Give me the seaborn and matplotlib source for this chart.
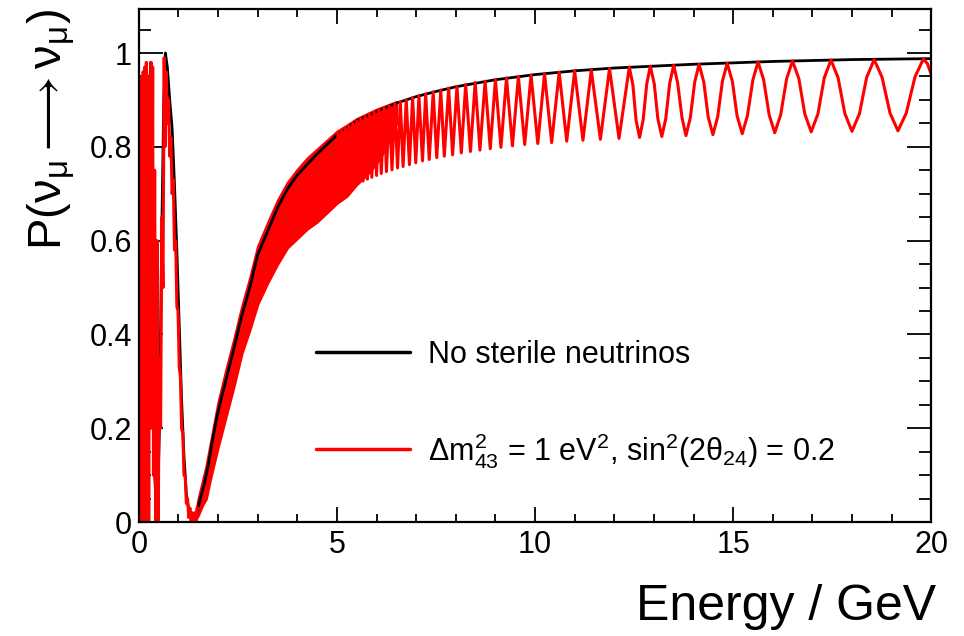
import pandas as pd
import matplotlib
matplotlib.use('Agg')
import matplotlib.pyplot as plt
from matplotlib.lines import Line2D
from matplotlib.ticker import MultipleLocator
import seaborn as sns

# survival probability without steriles (black)
black_energy = [0.02, 0.06, 0.10, 0.14, 0.18, 0.22, 0.26, 0.30, 0.35, 0.40, 0.46, 0.52, 0.58, 0.63,
                0.67, 0.72, 0.78, 0.84, 0.90, 0.96, 1.02, 1.08, 1.14, 1.20, 1.27, 1.34, 1.40, 1.47,
                1.55, 1.65, 1.75, 1.85, 1.96, 2.1, 2.25, 2.4, 2.6, 2.8, 3.0, 3.25, 3.5, 3.75, 4.0,
                4.5, 5.0, 5.5, 6.0, 6.5, 7.0, 7.5, 8.0, 9.0, 10, 11, 12, 13, 14, 15, 16, 17, 18, 19, 20]
black_prob = [0.5, 0.0, 0.95, 0.0, 0.97, 0.05, 0.9, 0.98, 0.4, 0.1, 0.0, 0.2, 0.62, 0.9,
              1.0, 0.97, 0.9, 0.84, 0.72, 0.58, 0.42, 0.26, 0.14, 0.06, 0.02, 0.003, 0.0, 0.02,
              0.05, 0.08, 0.12, 0.17, 0.22, 0.27, 0.32, 0.37, 0.44, 0.50, 0.57, 0.62, 0.67, 0.71, 0.74,
              0.785, 0.825, 0.855, 0.875, 0.893, 0.907, 0.918, 0.928, 0.943, 0.954, 0.962, 0.968,
              0.972, 0.976, 0.979, 0.982, 0.984, 0.986, 0.987, 0.988]

# sterile case (red), low-energy spikes
red_low_energy = [0.01, 0.03, 0.05, 0.07, 0.09, 0.11, 0.13, 0.15, 0.17, 0.19, 0.21, 0.23, 0.25, 0.27,
                  0.29, 0.31, 0.33, 0.35, 0.37, 0.40, 0.43, 0.46, 0.49, 0.52, 0.55, 0.58, 0.61, 0.64,
                  0.66, 0.69, 0.72, 0.75, 0.78, 0.81, 0.84, 0.87, 0.90, 0.93, 0.96, 0.99, 1.02, 1.05,
                  1.08, 1.11, 1.14, 1.17, 1.20, 1.23, 1.26, 1.29, 1.32, 1.35, 1.38, 1.41, 1.44, 1.47, 1.50]
red_low_prob = [0.0, 0.93, 0.02, 0.95, 0.0, 0.96, 0.03, 0.97, 0.0, 0.98, 0.05, 0.9, 0.0, 0.95,
                0.2, 0.98, 0.5, 0.97, 0.1, 0.75, 0.0, 0.6, 0.0, 0.35, 0.2, 0.65, 0.5, 0.99,
                0.8, 0.96, 0.85, 0.9, 0.78, 0.82, 0.7, 0.73, 0.58, 0.6, 0.46, 0.45, 0.33, 0.31,
                0.2, 0.19, 0.1, 0.1, 0.04, 0.05, 0.01, 0.03, 0.0, 0.02, 0.0, 0.02, 0.0, 0.03, 0.03]

# unresolved fast oscillation: band edges
band_energy = [1.40, 1.5, 1.6, 1.7, 1.8, 1.9, 2.0, 2.2, 2.4, 2.6, 2.8, 3.0, 3.25, 3.5, 3.75,
               4.0, 4.25, 4.5, 4.75, 5.0, 5.25, 5.5, 5.75, 6.0, 6.25, 6.5]
band_top = [0.005, 0.05, 0.085, 0.12, 0.165, 0.21, 0.255, 0.325, 0.39, 0.46, 0.52, 0.588, 0.638,
            0.686, 0.724, 0.752, 0.776, 0.795, 0.814, 0.833, 0.846, 0.86, 0.87, 0.88, 0.888, 0.896]
band_bottom = [0.0, 0.015, 0.035, 0.05, 0.09, 0.125, 0.16, 0.225, 0.29, 0.36, 0.41, 0.465, 0.51,
               0.55, 0.585, 0.605, 0.625, 0.64, 0.66, 0.68, 0.695, 0.72, 0.74, 0.765, 0.80, 0.85]

# resolved oscillation, peaks and troughs (energy, prob)
red_mid = [(4.99, 0.698), (5.03, 0.830), (5.08, 0.702), (5.12, 0.835), (5.17, 0.706), (5.21, 0.840),
           (5.26, 0.710), (5.30, 0.845), (5.35, 0.714), (5.40, 0.850), (5.45, 0.719), (5.50, 0.855),
           (5.55, 0.723), (5.60, 0.860), (5.66, 0.727), (5.71, 0.865), (5.77, 0.731), (5.82, 0.870),
           (5.88, 0.735), (5.94, 0.874), (6.00, 0.739), (6.06, 0.878), (6.12, 0.743), (6.19, 0.883),
           (6.25, 0.747), (6.32, 0.887), (6.39, 0.751), (6.46, 0.892), (6.53, 0.755), (6.60, 0.896),
           (6.67, 0.758), (6.75, 0.900), (6.83, 0.762), (6.91, 0.905), (6.99, 0.766), (7.07, 0.909),
           (7.16, 0.770), (7.24, 0.913), (7.33, 0.773), (7.43, 0.917), (7.52, 0.777), (7.62, 0.921),
           (7.71, 0.780), (7.82, 0.925), (7.92, 0.783), (8.03, 0.929), (8.14, 0.787), (8.25, 0.933),
           (8.37, 0.790), (8.49, 0.937), (8.61, 0.793), (8.74, 0.940), (8.87, 0.796), (9.00, 0.943),
           (9.14, 0.799), (9.28, 0.947), (9.43, 0.802), (9.58, 0.950), (9.74, 0.805), (9.90, 0.953),
           (10.07, 0.807), (10.24, 0.956), (10.42, 0.809), (10.61, 0.959), (10.80, 0.812),
           (11.00, 0.962), (11.21, 0.814), (11.42, 0.964), (11.65, 0.816), (11.88, 0.967),
           (12.12, 0.818), (12.38, 0.970)]
red_high = [(12.47, 0.932), (12.55, 0.857), (12.64, 0.820), (12.73, 0.858), (12.82, 0.934),
            (12.91, 0.972), (13.01, 0.934), (13.10, 0.860), (13.20, 0.822), (13.30, 0.860),
            (13.40, 0.936), (13.50, 0.974), (13.60, 0.936), (13.71, 0.862), (13.81, 0.824),
            (13.92, 0.862), (14.03, 0.938), (14.14, 0.976), (14.26, 0.938), (14.37, 0.864),
            (14.49, 0.826), (14.61, 0.864), (14.73, 0.940), (14.85, 0.978), (14.98, 0.940),
            (15.10, 0.866), (15.23, 0.828), (15.36, 0.866), (15.50, 0.943), (15.63, 0.981),
            (15.77, 0.943), (15.91, 0.868), (16.05, 0.830), (16.20, 0.868), (16.35, 0.945),
            (16.50, 0.983), (16.66, 0.945), (16.81, 0.870), (16.97, 0.832), (17.14, 0.870),
            (17.30, 0.947), (17.47, 0.985), (17.65, 0.947), (17.82, 0.871), (18.00, 0.833),
            (18.19, 0.871), (18.37, 0.948), (18.56, 0.986), (18.76, 0.948), (18.96, 0.872),
            (19.16, 0.834), (19.37, 0.872), (19.59, 0.949), (19.80, 0.987), (19.90, 0.978),
            (20.00, 0.955)]

x_ticks = [0, 5, 10, 15, 20]
x_tick_labels = ['0', '5', '10', '15', '20']
y_ticks = [0, 0.2, 0.4, 0.6, 0.8, 1.0]
y_tick_labels = ['0', '0.2', '0.4', '0.6', '0.8', '1']

sns.set_theme(style='white')
plt.rcParams['font.family'] = ['Liberation Sans', 'DejaVu Sans']
plt.rcParams['mathtext.fontset'] = 'custom'
plt.rcParams['mathtext.rm'] = 'Liberation Sans'
plt.rcParams['mathtext.it'] = 'Liberation Sans'
plt.rcParams['mathtext.default'] = 'regular'
for key in ['text.color', 'axes.labelcolor', 'xtick.color', 'ytick.color']:
    plt.rcParams[key] = 'black'

black_df = pd.DataFrame({'energy': black_energy, 'prob': black_prob})
red_df = pd.concat([
    pd.DataFrame({'energy': red_low_energy, 'prob': red_low_prob, 'seg': 0}),
    pd.DataFrame(red_mid + red_high, columns=['energy', 'prob']).assign(seg=1),
], ignore_index=True)

fig, ax = plt.subplots(figsize=(9.64, 6.36), dpi=100)
fig.subplots_adjust(left=0.144, right=0.966, bottom=0.179, top=0.986)

sns.lineplot(data=black_df, x='energy', y='prob', color='black', lw=2.0,
             estimator=None, sort=False, ax=ax)
ax.fill_between(band_energy, band_bottom, band_top, color='red', lw=1.8)
sns.lineplot(data=red_df, x='energy', y='prob', units='seg', color='red', lw=2.2,
             estimator=None, sort=False, ax=ax)

ax.set_xlim(0, 20)
ax.set_ylim(0, 1.094)
ax.set_xticks(x_ticks)
ax.set_xticklabels(x_tick_labels)
ax.set_yticks(y_ticks)
ax.set_yticklabels(y_tick_labels)
ax.xaxis.set_minor_locator(MultipleLocator(1))
ax.yaxis.set_minor_locator(MultipleLocator(0.05))
ax.tick_params(axis='x', which='major', direction='in', length=11, width=1.3,
               top=True, bottom=True, labelsize=22, pad=6)
ax.tick_params(axis='x', which='minor', direction='in', length=5.5, width=1.3, top=True, bottom=True)
ax.tick_params(axis='y', which='major', direction='in', length=17, width=1.3,
               left=True, right=True, labelsize=22, pad=5)
ax.tick_params(axis='y', which='minor', direction='in', length=8.5, width=1.3, left=True, right=True)
for s in ax.spines.values():
    s.set_color('black')
    s.set_linewidth(1.6)

ax.set_xlabel('Energy / GeV', fontsize=36, loc='right')
ax.xaxis.set_label_coords(1.006, -0.12)
ax.set_ylabel(r'P($\nu_{\mu} \longrightarrow \nu_{\mu}$)', fontsize=34, loc='top')
ax.yaxis.set_label_coords(-0.078, 1.0)

handles = [Line2D([], [], color='black', lw=2.5), Line2D([], [], color='red', lw=2.5)]
labels = ['No sterile neutrinos',
          r'$\Delta m^{2}_{43}$ = 1 eV$^{2}$, sin$^{2}$(2$\theta_{24}$) = 0.2']
ax.legend(handles, labels, loc='center left', bbox_to_anchor=(0.2235, 0.228), frameon=False,
          fontsize=22, handlelength=3.07, handletextpad=0.59, labelspacing=2.0,
          borderpad=0, borderaxespad=0)

plt.savefig('out.png', dpi=100)
